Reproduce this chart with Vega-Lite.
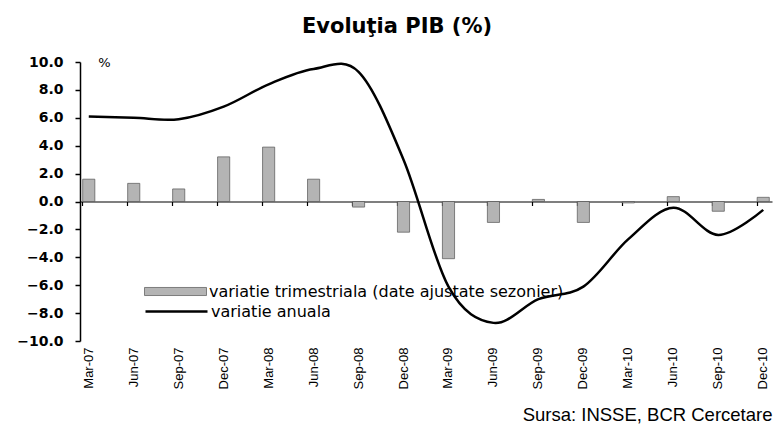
{
  "$schema": "https://vega.github.io/schema/vega-lite/v6.json",
  "width": 692,
  "height": 279,
  "autosize": {"type": "none"},
  "padding": {"left": 80, "top": 62, "right": 2, "bottom": 88},
  "background": "white",
  "title": {
    "text": "Evoluţia PIB (%)",
    "font": "DejaVu Sans",
    "fontSize": 21,
    "fontWeight": "bold",
    "color": "black",
    "anchor": "middle",
    "dx": -29,
    "offset": 18
  },
  "data": {
    "values": [
      {"q": "Mar-07", "trim": 1.6, "anual": 6.1},
      {"q": "Jun-07", "trim": 1.3, "anual": 6.0},
      {"q": "Sep-07", "trim": 0.9, "anual": 5.9},
      {"q": "Dec-07", "trim": 3.2, "anual": 6.8},
      {"q": "Mar-08", "trim": 3.9, "anual": 8.4},
      {"q": "Jun-08", "trim": 1.6, "anual": 9.5},
      {"q": "Sep-08", "trim": -0.4, "anual": 9.3},
      {"q": "Dec-08", "trim": -2.2, "anual": 3.0},
      {"q": "Mar-09", "trim": -4.1, "anual": -6.1},
      {"q": "Jun-09", "trim": -1.5, "anual": -8.7},
      {"q": "Sep-09", "trim": 0.15, "anual": -7.0},
      {"q": "Dec-09", "trim": -1.5, "anual": -6.1},
      {"q": "Mar-10", "trim": -0.1, "anual": -2.7},
      {"q": "Jun-10", "trim": 0.35, "anual": -0.45},
      {"q": "Sep-10", "trim": -0.7, "anual": -2.4},
      {"q": "Dec-10", "trim": 0.3, "anual": -0.6}
    ]
  },
  "layer": [
    {
      "mark": {"type": "bar", "stroke": "#555555", "strokeWidth": 0.7},
      "encoding": {
        "x": {
          "field": "q",
          "type": "nominal",
          "sort": null,
          "scale": {"paddingInner": 0.73, "paddingOuter": 0.06},
          "axis": {
            "orient": "bottom",
            "labelAngle": -90,
            "labelAlign": "right",
            "labelBaseline": "middle",
            "labelFont": "Liberation Sans",
            "labelFontSize": 13,
            "labelColor": "black",
            "labelPadding": 6,
            "ticks": false,
            "domain": false,
            "grid": false,
            "title": "Sursa: INSSE, BCR Cercetare",
            "titleFont": "Liberation Sans",
            "titleFontSize": 18.5,
            "titleFontWeight": "normal",
            "titleColor": "black",
            "titleX": 692,
            "titleY": 79,
            "titleAlign": "right",
            "titleBaseline": "alphabetic",
            "titleAnchor": null
          }
        },
        "y": {
          "field": "trim",
          "type": "quantitative",
          "scale": {"domain": [-10, 10], "nice": false},
          "axis": {
            "tickCount": 10,
            "format": ".1f",
            "grid": false,
            "labelFont": "DejaVu Sans",
            "labelFontWeight": "bold",
            "labelFontSize": 14,
            "labelColor": "black",
            "labelPadding": 12,
            "tickSize": 5,
            "tickColor": "black",
            "tickWidth": 1.5,
            "domainColor": "black",
            "domainWidth": 1.5,
            "title": "%",
            "titleAngle": 0,
            "titleX": 24,
            "titleY": 0,
            "titleAlign": "center",
            "titleBaseline": "middle",
            "titleFont": "DejaVu Sans",
            "titleFontSize": 13,
            "titleFontWeight": "normal",
            "titleColor": "black"
          }
        },
        "fill": {
          "datum": "variatie trimestriala (date ajustate sezonier)",
          "scale": {"range": ["#b4b4b4"]},
          "legend": {
            "orient": "none",
            "legendX": 64,
            "legendY": 198,
            "title": null,
            "padding": 0,
            "symbolType": "M-1,-0.13H1V0.13H-1Z",
            "symbolSize": 3844,
            "symbolStrokeColor": "#555555",
            "symbolStrokeWidth": 0.7,
            "labelFont": "DejaVu Sans",
            "labelFontSize": 16,
            "labelColor": "black",
            "labelOffset": 2,
            "labelLimit": 600
          }
        }
      }
    },
    {
      "mark": {"type": "line", "strokeWidth": 2.5, "interpolate": "cardinal"},
      "encoding": {
        "x": {
          "field": "q",
          "type": "nominal",
          "sort": null,
          "axis": {
            "orient": "bottom",
            "offset": -139.5,
            "labels": false,
            "domain": true,
            "domainColor": "black",
            "domainWidth": 1.2,
            "ticks": true,
            "tickSize": 4,
            "tickColor": "black",
            "tickWidth": 1.2,
            "bandPosition": 0,
            "grid": false,
            "title": null
          }
        },
        "y": {"field": "anual", "type": "quantitative"},
        "stroke": {
          "datum": "variatie anuala",
          "scale": {"range": ["black"]},
          "legend": {
            "orient": "none",
            "legendX": 64,
            "legendY": 217,
            "title": null,
            "padding": 0,
            "symbolType": "stroke",
            "symbolSize": 3844,
            "symbolStrokeWidth": 2.5,
            "labelFont": "DejaVu Sans",
            "labelFontSize": 16,
            "labelColor": "black",
            "labelOffset": 2
          }
        }
      }
    }
  ],
  "resolve": {"axis": {"x": "independent"}},
  "config": {"view": {"stroke": null}}
}
